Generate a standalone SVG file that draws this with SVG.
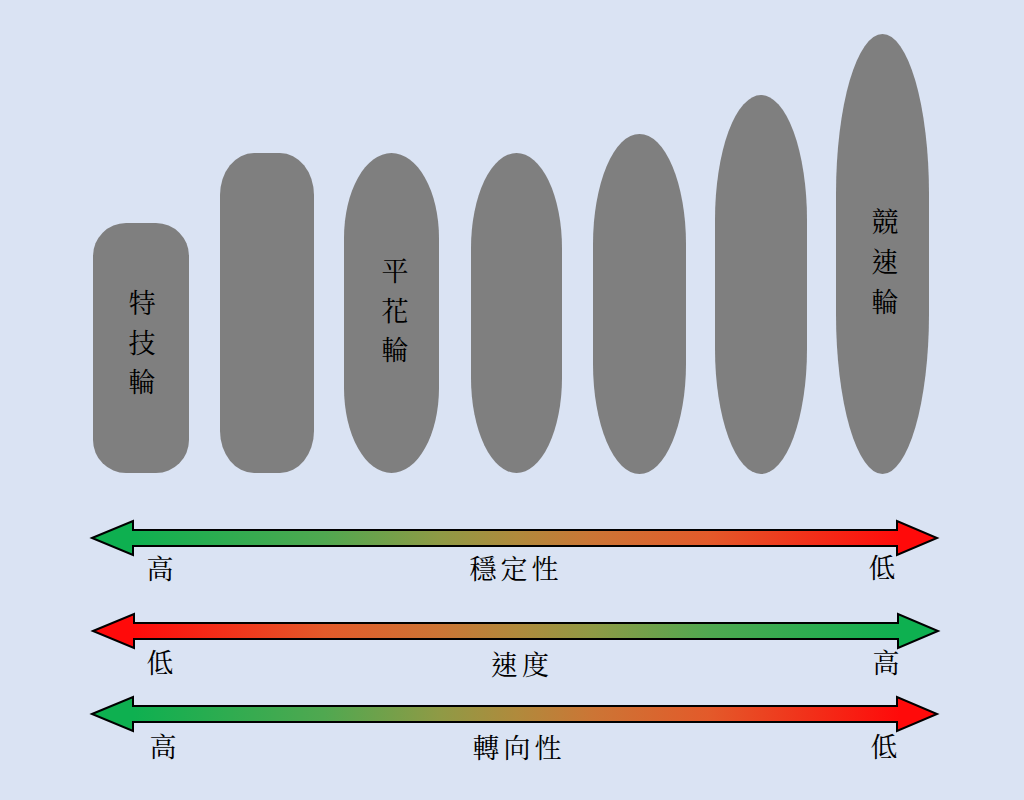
<svg xmlns="http://www.w3.org/2000/svg" width="1024" height="800" viewBox="0 0 1024 800">
<defs>
<linearGradient id="gr" gradientUnits="userSpaceOnUse" x1="133" y1="0" x2="900" y2="0">
<stop offset="0" stop-color="#0eb050"/><stop offset="0.25" stop-color="#50a850"/><stop offset="0.4" stop-color="#8f9a45"/><stop offset="0.5" stop-color="#b08a3c"/><stop offset="0.6" stop-color="#cc7535"/><stop offset="0.75" stop-color="#e35a2a"/><stop offset="1" stop-color="#ff0a0a"/>
</linearGradient>
<linearGradient id="rg" gradientUnits="userSpaceOnUse" x1="900" y1="0" x2="133" y2="0">
<stop offset="0" stop-color="#0eb050"/><stop offset="0.25" stop-color="#50a850"/><stop offset="0.4" stop-color="#8f9a45"/><stop offset="0.5" stop-color="#b08a3c"/><stop offset="0.6" stop-color="#cc7535"/><stop offset="0.75" stop-color="#e35a2a"/><stop offset="1" stop-color="#ff0a0a"/>
</linearGradient>
<style>
.tire{fill:#7f7f7f}
.arrow{stroke:#000;stroke-width:2;stroke-linejoin:miter}
text{font-family:"Noto Serif CJK TC","Noto Sans CJK TC",serif;font-size:27px;fill:#000;text-anchor:middle}
</style>
</defs>
<rect width="1024" height="800" fill="#dae3f3"/>
<g id="tire1"><rect class="tire" x="93" y="223" width="96" height="250" rx="33" ry="33"/>
<text x="142" y="313">特</text><text x="142" y="353">技</text><text x="142" y="392">輪</text></g>
<g id="tire2"><rect class="tire" x="220" y="153" width="94" height="320" rx="34" ry="42"/></g>
<g id="tire3"><rect class="tire" x="344" y="153" width="95" height="320" rx="47.5" ry="85"/>
<text x="395" y="281">平</text><text x="395" y="321">花</text><text x="395" y="360">輪</text></g>
<g id="tire4"><rect class="tire" x="471" y="153" width="91" height="320" rx="45.5" ry="95"/></g>
<g id="tire5"><rect class="tire" x="593" y="134" width="93" height="340" rx="46.5" ry="110"/></g>
<g id="tire6"><rect class="tire" x="715" y="95" width="92" height="379" rx="46" ry="125"/></g>
<g id="tire7"><rect class="tire" x="836" y="34" width="93" height="440" rx="46.5" ry="160"/>
<text x="885" y="232">競</text><text x="885" y="272">速</text><text x="885" y="312">輪</text></g>
<g id="connectors">
<path class="arrow" fill="url(#gr)" d="M92,538 L133,521 L133,530 L897,530 L897,521 L937,538 L897,555 L897,546 L133,546 L133,555 Z"/>
<path class="arrow" fill="url(#rg)" d="M93,631 L134,614 L134,623 L898,623 L898,614 L938,631 L898,648 L898,639 L134,639 L134,648 Z"/>
<path class="arrow" fill="url(#gr)" d="M92,714 L133,697 L133,706 L897,706 L897,697 L937,714 L897,731 L897,722 L133,722 L133,731 Z"/>
</g>
<g id="labels">
<text x="160" y="579">高</text><text x="516" y="579" letter-spacing="4">穩定性</text><text x="882" y="578">低</text>
<text x="160" y="673">低</text><text x="522" y="675" letter-spacing="4">速度</text><text x="886" y="673">高</text>
<text x="163" y="757">高</text><text x="519" y="758" letter-spacing="4">轉向性</text><text x="884" y="757">低</text>
</g>
</svg>
